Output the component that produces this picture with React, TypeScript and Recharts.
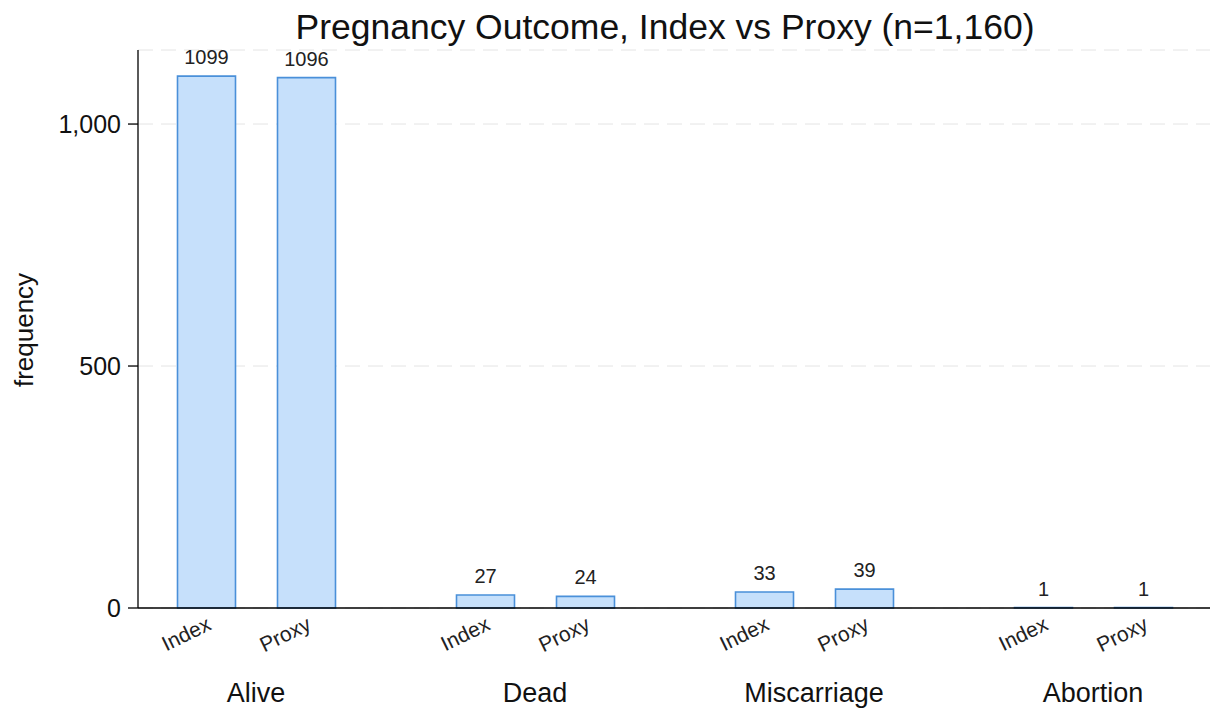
import { BarChart, Bar, XAxis, YAxis, CartesianGrid, LabelList } from 'recharts'

const outcomes = ['Alive', 'Dead', 'Miscarriage', 'Abortion']
const indexCounts = [1099, 27, 33, 1]
const proxyCounts = [1096, 24, 39, 1]
const seriesNames = ['Index', 'Proxy']
const yTicks = [0, 500, 1000]
const yMax = 1153

const data = outcomes.map((outcome, i) => ({
  outcome,
  index: indexCounts[i],
  proxy: proxyCounts[i],
}))

const font = '"Liberation Sans", Arial, sans-serif'
const barFill = '#c6e0fb'
const barStroke = '#4a90d9'

// rotated "Index" / "Proxy" under each bar
function seriesTag(name: string) {
  return (props: any) => {
    const vb = props.viewBox ?? props
    const cx = Number(vb.x) + Number(vb.width) / 2 + 6
    const cy = Number(vb.y) + Number(vb.height) + 21
    return (
      <text
        x={cx}
        y={cy}
        transform={`rotate(-26 ${cx} ${cy})`}
        textAnchor="end"
        fontSize={21}
        fontFamily={font}
        fill="#222"
      >
        {name}
      </text>
    )
  }
}

function GroupTick(props: any) {
  const { x, payload } = props
  return (
    <text x={x} y={702} textAnchor="middle" fontSize={27} fontFamily={font} fill="#111">
      {payload.value}
    </text>
  )
}

export default function App() {
  return (
    <div style={{ position: 'absolute', left: 0, top: 0, width: 1214, height: 709, background: '#fff' }}>
      <BarChart
        width={1214}
        height={709}
        data={data}
        margin={{ top: 50, right: 4, bottom: 0, left: 0 }}
        barSize={58}
        barGap={42}
      >
        <CartesianGrid vertical={false} stroke="#e4e4e4" strokeDasharray="15 8" />
        <XAxis
          dataKey="outcome"
          height={101}
          padding={{ left: -21.5, right: -22.5 }}
          axisLine={{ stroke: '#000', strokeWidth: 1.3 }}
          tickLine={false}
          tick={<GroupTick />}
          interval={0}
        />
        <YAxis
          width={138}
          domain={[0, yMax]}
          ticks={yTicks}
          tickFormatter={(v: number) => v.toLocaleString('en-US')}
          axisLine={{ stroke: '#000', strokeWidth: 1.3 }}
          tickLine={{ stroke: '#000', strokeWidth: 1.3 }}
          tickSize={10}
          tickMargin={7}
          tick={{ fontSize: 25, fill: '#111', fontFamily: font }}
        />
        <Bar dataKey="index" fill={barFill} stroke={barStroke} strokeWidth={1.6} isAnimationActive={false}>
          <LabelList dataKey="index" position="top" offset={12} fontSize={20} fontFamily={font} fill="#222" />
          <LabelList dataKey="index" content={seriesTag(seriesNames[0])} />
        </Bar>
        <Bar dataKey="proxy" fill={barFill} stroke={barStroke} strokeWidth={1.6} isAnimationActive={false}>
          <LabelList dataKey="proxy" position="top" offset={12} fontSize={20} fontFamily={font} fill="#222" />
          <LabelList dataKey="proxy" content={seriesTag(seriesNames[1])} />
        </Bar>
      </BarChart>
      <svg
        width={1214}
        height={709}
        style={{ position: 'absolute', left: 0, top: 0, pointerEvents: 'none' }}
      >
        <text x={665} y={39} textAnchor="middle" fontSize={35.5} fontFamily={font} fill="#111">
          Pregnancy Outcome, Index vs Proxy (n=1,160)
        </text>
        <text
          x={33}
          y={330}
          transform="rotate(-90 33 330)"
          textAnchor="middle"
          fontSize={26}
          fontFamily={font}
          fill="#111"
        >
          frequency
        </text>
      </svg>
    </div>
  )
}
